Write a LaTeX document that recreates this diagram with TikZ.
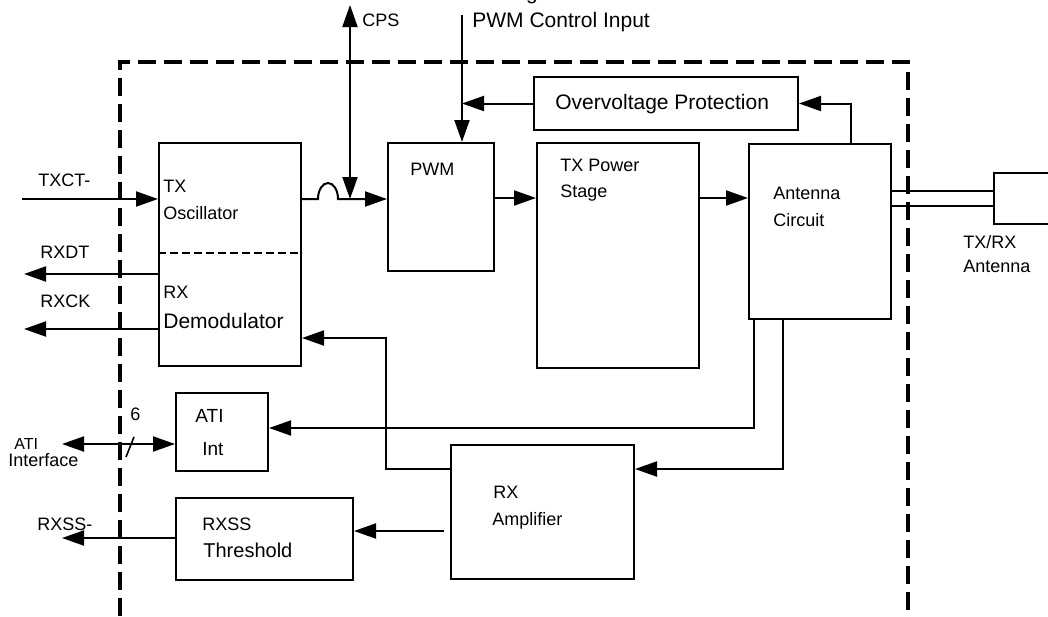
\documentclass[tikz,border=0pt]{standalone}
\usepackage{fontspec}
\setmainfont{Liberation Sans}
\usetikzlibrary{arrows.meta}

\tikzset{
	blk/.style={draw, line width=1pt, anchor=north west, inner sep=0pt},
	txt/.style={anchor=base west, inner sep=0pt, font=\fontsize{9}{11}\selectfont},
	bigtxt/.style={txt, font=\fontsize{10.5}{12}\selectfont},
	arr/.style={line width=1pt, -{Triangle[length=11pt,width=7.5pt]}},
	darr/.style={line width=1pt, {Triangle[length=11pt,width=7.5pt]}-{Triangle[length=11pt,width=7.5pt]}},
	border/.style={line width=1.6pt, dash pattern=on 9pt off 4pt},
}

\begin{document}
\begin{tikzpicture}[x=0.5pt, y=-0.5pt]
	\useasboundingbox (0,0) rectangle (1048,616);
	% chip outline
	\draw[border] (120,616) -- (120,62) -- (908,62) -- (908,616);

	% blocks
	\node[blk, minimum width=71pt, minimum height=111.5pt] (osc) at (158,142) {};
	\node[blk, minimum width=53pt, minimum height=64pt] (pwm) at (387,142) {};
	\node[blk, minimum width=81pt, minimum height=112.5pt] (txp) at (536,142) {};
	\node[blk, minimum width=71pt, minimum height=87.5pt] (ant) at (748,143) {};
	\node[blk, minimum width=132pt, minimum height=26.5pt] (ovp) at (533,76) {};
	\node[blk, minimum width=46pt, minimum height=39pt] (ati) at (175,392) {};
	\node[blk, minimum width=88.5pt, minimum height=41pt] (rxss) at (175,497) {};
	\node[blk, minimum width=91.5pt, minimum height=67pt] (amp) at (450,444) {};
	\node[blk, minimum width=40pt, minimum height=25.5pt] (antbox) at (993,172) {};
	\draw[line width=0.8pt, dash pattern=on 4pt off 2pt] (osc.west |- 0,253) -- (osc.east |- 0,253);

	\node[txt] (oscA) at (163,192) {TX};
	\node[txt] (oscB) at (163,219) {Oscillator};
	\node[txt] (demA) at (163,298) {RX};
	\node[bigtxt] (demB) at (163,328) {Demodulator};
	\node[txt] (pwmA) at (410,175) {PWM};
	\node[txt] (txpA) at (560,171) {TX Power};
	\node[txt] (txpB) at (560,197) {Stage};
	\node[txt] (antA) at (773,199) {Antenna};
	\node[txt] (antB) at (773,226) {Circuit};
	\node[bigtxt] (ovpA) at (555,109) {Overvoltage Protection};
	\node[txt, font=\fontsize{9.5}{11}\selectfont] (atiA) at (195,422) {ATI};
	\node[txt, font=\fontsize{9.5}{11}\selectfont] (atiB) at (202,455) {Int};
	\node[txt] (rxssA) at (202,530) {RXSS};
	\node[txt, font=\fontsize{10}{12}\selectfont] (rxssB) at (203,557) {Threshold};
	\node[txt] (ampA) at (493,498) {RX};
	\node[txt] (ampB) at (492,525) {Amplifier};

	% pins on the left
	\coordinate (txct) at (22,199);
	\draw[arr] (txct) -- (txct -| osc.west);
	\node[txt] (ltxct) at (38,186) {TXCT-};
	\coordinate (rxdt) at (24,274);
	\draw[arr] (rxdt -| osc.west) -- (rxdt);
	\node[txt] (lrxdt) at (40,258) {RXDT};
	\coordinate (rxck) at (24,329);
	\draw[arr] (rxck -| osc.west) -- (rxck);
	\node[txt] (lrxck) at (40,307) {RXCK};
	\coordinate (atiif) at (62,444);
	\draw[darr] (atiif) -- (atiif -| ati.west);
	\draw[line width=0.8pt] (126,457) -- (134,437);
	\node[txt] (lsix) at (130,420) {6};
	\node[txt, font=\fontsize{8}{9}\selectfont] (latiA) at (14,449) {ATI};
	\node[txt] (latiB) at (8,466) {Interface};
	\coordinate (rxssout) at (62,538);
	\draw[arr] (rxss.west |- rxssout) -- (rxssout);
	\node[txt] (lrxss) at (37,530) {RXSS-};

	% transmit path
	\draw[arr] (txct -| osc.east) -- (318,199) arc[start angle=180, end angle=0, x radius=5pt, y radius=8pt] -- (txct -| pwm.west);
	\coordinate (cps) at (350,5);
	\draw[darr] (cps) -- (cps |- txct);
	\node[txt] (lcps) at (362,26) {CPS};
	\coordinate (pwmctl) at (462,15);
	\draw[arr] (pwmctl) -- (pwmctl |- pwm.north);
	\node[bigtxt] (lctl0) at (472,-1) {Analog};
	\node[bigtxt] (lctl) at (472,27) {PWM Control Input};
	\draw[arr] (ovp.west) -- (ovp.west -| pwmctl);
	\draw[arr] ([xshift=51.5pt]ant.north west) |- (ovp.east);
	\draw[arr] (pwm.east |- 0,198) -- (txp.west |- 0,198);
	\draw[arr] (txp.east |- 0,198) -- (ant.west |- 0,198);

	% antenna
	\draw[line width=1pt] (ant.east |- 0,191) -- (antbox.west |- 0,191);
	\draw[line width=1pt] (ant.east |- 0,206) -- (antbox.west |- 0,206);
	\node[txt] (lantA) at (963,248) {TX/RX};
	\node[txt] (lantB) at (963,272) {Antenna};

	% receive path
	\draw[arr] ([xshift=3pt]ant.south west) |- (ati.east |- 0,428);
	\draw[arr] ([xshift=17.5pt]ant.south west) |- (amp.east |- 0,469);
	\draw[arr] (amp.west |- 0,469) -| (386,338) -- (osc.east |- 0,338);
	\draw[arr] (444,531) -- (rxss.east |- 0,531);
\end{tikzpicture}
\end{document}
